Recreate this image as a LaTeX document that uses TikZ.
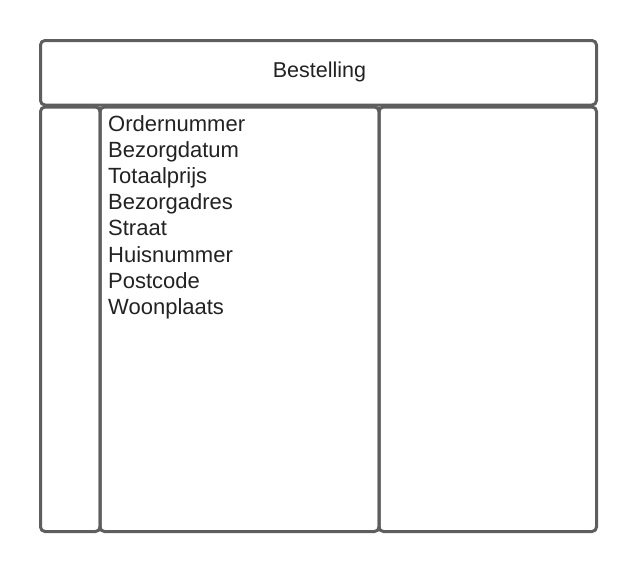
\documentclass[tikz,border=0pt]{standalone}
\usepackage{fontspec}
\setmainfont{Liberation Sans}
\definecolor{edge}{HTML}{5E5E5E}
\definecolor{ink}{HTML}{222222}
\begin{document}
\begin{tikzpicture}[x=1pt,y=1pt,
  box/.style={draw=edge,line width=3pt,rounded corners=4.5pt,inner sep=0pt,minimum width=#1},
  field/.style={anchor=base west,inner sep=0pt,text=ink,font=\fontsize{22}{26}\selectfont}]
\useasboundingbox (0,0) rectangle (636,-573);
\node[box=556pt,minimum height=64.5pt] (head) at (318.5,-72.75) {};
\node[anchor=base,inner sep=0pt,text=ink,font=\fontsize{21.5}{26}\selectfont] (title) at (319.5,-77.7) {Bestelling};
\node[box=59.5pt,minimum height=424.5pt] (colL) at (70.25,-319.25) {};
\node[box=279pt,minimum height=424.5pt] (colM) at (239.5,-319.25) {};
\node[box=217.5pt,minimum height=424.5pt] (colR) at (487.75,-319.25) {};
\node[field] (f1) at (108,-131) {Ordernummer};
\node[field] (f2) at (108,-157.2) {Bezorgdatum};
\node[field] (f3) at (108,-183.4) {Totaalprijs};
\node[field] (f4) at (108,-209.6) {Bezorgadres};
\node[field] (f5) at (108,-235.8) {Straat};
\node[field] (f6) at (108,-262) {Huisnummer};
\node[field] (f7) at (108,-288.2) {Postcode};
\node[field] (f8) at (108,-314.4) {Woonplaats};
\end{tikzpicture}
\end{document}
